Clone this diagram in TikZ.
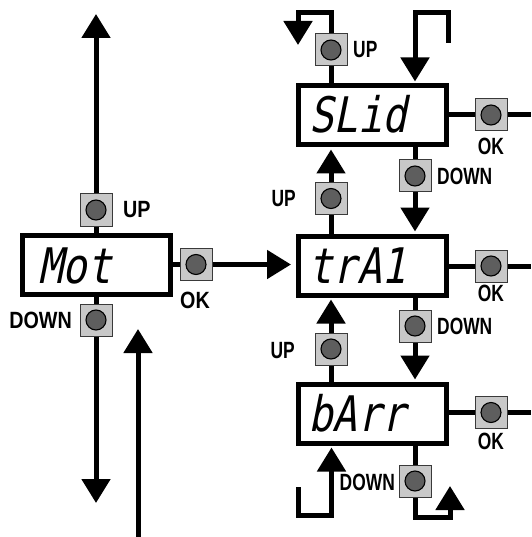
\documentclass[tikz,border=0pt]{standalone}
\usepackage{fontspec}
\usetikzlibrary{arrows.meta}
\newfontfamily\labL[FakeStretch=0.84]{Liberation Sans}
\newfontfamily\labR[FakeStretch=0.74]{Liberation Sans}
\newfontfamily\segfont[FakeSlant=0.2,FakeStretch=0.83]{DejaVu Sans Mono}
\definecolor{btnfill}{HTML}{C8C8C8}
\definecolor{btnedge}{HTML}{3A3A3A}
\definecolor{dotfill}{HTML}{5E5E5E}
\begin{document}
\begin{tikzpicture}[x=1pt,y=-1pt,
  conn/.style={line width=5pt, line join=miter},
  arr/.style={conn, -{Triangle[length=24pt,width=28pt]}, shorten >=2pt},
  disp/.style={draw, line width=5pt, fill=white, minimum width=148pt, minimum height=59pt, inner sep=0pt},
  segtxt/.style={anchor=base west, inner sep=0pt, font=\segfont\fontsize{49}{49}\selectfont},
  btn/.style={draw=btnedge, line width=1pt, fill=btnfill, minimum size=32pt, inner sep=0pt},
  labl/.style={inner sep=0pt, font=\labL\bfseries\fontsize{23.5}{23.5}\selectfont},
  labr/.style={inner sep=0pt, font=\labR\bfseries\fontsize{23.5}{23.5}\selectfont}]
\useasboundingbox (0,0) rectangle (531,537);

% displays
\node[disp] (mot) at (96.5,265) {};
\node[disp] (sl) at (372.5,115.5) {};
\node[disp] (tr) at (372.5,265.5) {};
\node[disp] (ba) at (372.5,413.5) {};
\node[segtxt] (motT) at (38,283) {Mot};
\node[segtxt] (slT) at (309,133) {SLid};
\node[segtxt] (trT) at (308,283.5) {trA1};
\node[segtxt] (baT) at (308,431) {bArr};

% buttons
\foreach \n/\x/\y in {mU/96/210, mD/96/320, mO/196/264.5,
  sU/331/50, sO/491/115, sD/415/176,
  tUp/331/198.5, tO/491/266, tD/415/326,
  bU/331/349, bO/491/412.5, bD/415/481}{
  \node[btn] (\n) at (\x,\y) {};
  \draw[line width=1.1pt, fill=dotfill] (\n.center) circle (10pt);
}

% labels
\node[labl, anchor=west] (lmU) at (123,210) {UP};
\node[labl, anchor=east] (lmD) at (72,320) {DOWN};
\node[labl] (lmO) at (195,300) {OK};
\node[labr, anchor=west] (lsU) at (353,50) {UP};
\node[labr] (lsO) at (491,146.5) {OK};
\node[labr, anchor=west] (lsD) at (437,176) {DOWN};
\node[labr, anchor=east] (ltU) at (296,199) {UP};
\node[labr] (ltO) at (491,293) {OK};
\node[labr, anchor=west] (ltD) at (437,326.5) {DOWN};
\node[labr, anchor=east] (lbU) at (295,351) {UP};
\node[labr] (lbO) at (491,441.5) {OK};
\node[labr, anchor=east] (lbD) at (395,482) {DOWN};

% free-end coordinates
\coordinate (topTip) at (96,12);
\coordinate (botTip) at (96,505);
\coordinate (inBot) at (138,537);
\coordinate (inTip) at (138,327);
\coordinate (edgeR) at (531,0);
\coordinate (sLa) at (298,13);
\coordinate (sLtip) at (298,47);
\coordinate (inS0) at (448,43);
\coordinate (inS1) at (448,13);
\coordinate (inS2) at (415,13);
\coordinate (bLa) at (450,517);
\coordinate (bLtip) at (450,484);
\coordinate (bI0) at (298,487);
\coordinate (bI1) at (298,515);
\coordinate (bI2) at (331.5,515);

% Mot connectors
\draw[arr] (mU.north) -- (topTip);
\draw[conn] (mU.south) -- (mU.south |- mot.north);
\draw[conn] (mD.north) -- (mD.north |- mot.south);
\draw[arr] (mD.south) -- (botTip);
\draw[conn] (mO.west -| mot.east) -- (mO.west);
\draw[arr, shorten >=5pt] (mO.east) -- (mO.east -| tr.west);
\draw[arr] (inBot) -- (inTip);

% SLid
\draw[conn] (sU.south) -- (sU.south |- sl.north);
\draw[arr] (sU.north) |- (sLa) -- (sLtip);
\draw[arr] (inS0) -- (inS1) -- (inS2) -- (inS2 |- sl.north);
\draw[conn] (sO.west -| sl.east) -- (sO.west);
\draw[conn] (sO.east) -- (sO.east -| edgeR);
\draw[conn] (sD.north |- sl.south) -- (sD.north);
\draw[arr] (sD.south) -- (sD.south |- tr.north);

% trA1
\draw[conn] (tUp.south |- tr.north) -- (tUp.south);
\draw[arr] (tUp.north) -- (tUp.north |- sl.south);
\draw[conn] (tO.west -| tr.east) -- (tO.west);
\draw[conn] (tO.east) -- (tO.east -| edgeR);
\draw[conn] (tD.north |- tr.south) -- (tD.north);
\draw[arr] (tD.south) -- (tD.south |- ba.north);

% bArr
\draw[conn] (bU.south |- ba.north) -- (bU.south);
\draw[arr] (bU.north) -- (bU.north |- tr.south);
\draw[conn] (bO.west -| ba.east) -- (bO.west);
\draw[conn] (bO.east) -- (bO.east -| edgeR);
\draw[conn] (bD.north |- ba.south) -- (bD.north);
\draw[arr] (bD.south) |- (bLa) -- (bLtip);
\draw[arr] (bI0) -- (bI1) -- (bI2) -- (bI2 |- ba.south);
\end{tikzpicture}
\end{document}
